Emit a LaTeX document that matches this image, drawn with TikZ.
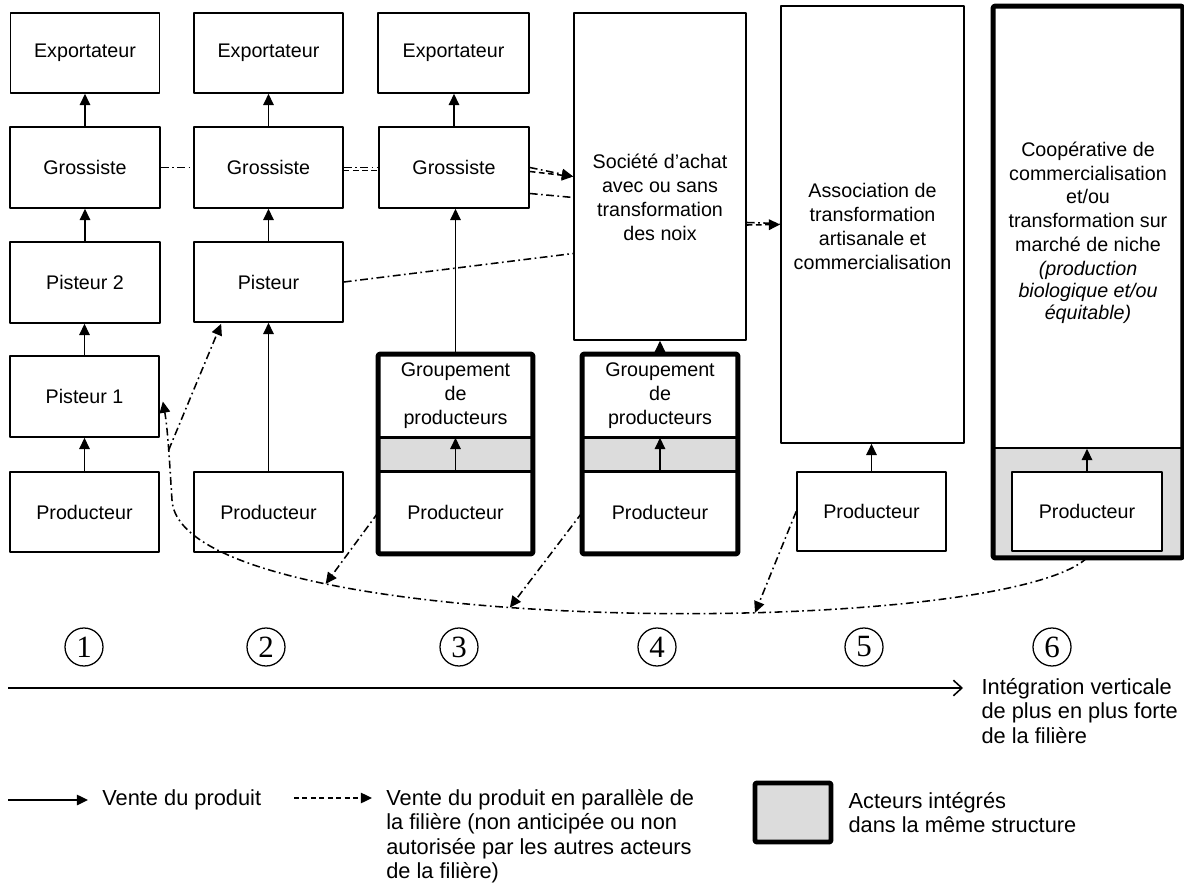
\documentclass[tikz,border=0pt]{standalone}
\usepackage{fontspec}
\setmainfont{Liberation Sans}
\newfontfamily\chiffres{Liberation Serif}
\usetikzlibrary{positioning, arrows.meta, calc}
\definecolor{gris}{RGB}{220,220,220}

\begin{document}
\begin{tikzpicture}[x=0.025cm, y=-0.025cm, line join=round,
    font=\fontsize{14}{17}\selectfont,
    acteur/.style={draw, line width=1.2pt, fill=white, align=center, inner sep=1pt},
    taille/.style 2 args={minimum width=#1*0.025cm, minimum height=#2*0.025cm},
    integre/.style={draw, line width=3.5pt, rounded corners=1pt},
    fleche/.style={-{Triangle[length=8pt, width=7.5pt]}},
    vente/.style={fleche, line width=1.1pt},
    parallele/.style={line width=1.1pt, dash pattern=on 5.5pt off 2.5pt on 1.2pt off 2.5pt},
    tirets/.style={line width=1.1pt, dash pattern=on 4pt off 2.5pt},
    legende/.style={font=\fontsize{15.5}{17.5}\selectfont, align=left, inner sep=2pt},
    numero/.style={circle, draw, line width=0.9pt, minimum size=0.95cm, inner sep=0pt,
      font=\chiffres\fontsize{22}{22}\selectfont}]
  \useasboundingbox (0,0) rectangle (1184,886);

  % colonne 1
  \node[acteur, taille={149}{80}] (exp1) at (85,53) {Exportateur};
  \node[acteur, taille={150}{81}] (gro1) at (85,167.5) {Grossiste};
  \node[acteur, taille={150}{81}] (pis2) at (85,282.5) {Pisteur 2};
  \node[acteur, taille={149}{81}] (pis1) at (84.5,396.5) {Pisteur 1};
  \node[acteur, taille={149}{80}] (prod1) at (84.5,512) {Producteur};

  % colonne 2
  \node[acteur, taille={149}{80}] (exp2) at (268.5,53) {Exportateur};
  \node[acteur, taille={149}{81}] (gro2) at (268.5,167.5) {Grossiste};
  \node[acteur, taille={149}{80}] (pis) at (268.5,282) {Pisteur};
  \node[acteur, taille={149}{80}] (prod2) at (268.5,512) {Producteur};

  % colonne 3
  \node[acteur, taille={151}{80}] (exp3) at (453.5,53) {Exportateur};
  \node[acteur, taille={150}{81}] (gro3) at (454,167.5) {Grossiste};
  \node[acteur, taille={153}{82}] (groupe3) at (455.5,396) {Groupement\\de\\producteurs};
  \node[acteur, taille={153}{81}] (prod3) at (455.5,512.5) {Producteur};
  \filldraw[gris, draw=black, line width=1.2pt] (groupe3.south west) rectangle (prod3.north east);
  \draw[integre] (groupe3.north west) rectangle (prod3.south east);

  % colonne 4
  \node[acteur, taille={172}{327}] (soc) at (660,176.5) {};
  \node[align=center] (soctxt) at (660,197) {Société d’achat\\avec ou sans\\transformation\\des noix};
  \node[acteur, taille={154}{82}] (groupe4) at (660,396) {Groupement\\de\\producteurs};
  \node[acteur, taille={154}{81}] (prod4) at (660,512.5) {Producteur};
  \filldraw[gris, draw=black, line width=1.2pt] (groupe4.south west) rectangle (prod4.north east);
  \draw[integre] (groupe4.north west) rectangle (prod4.south east);

  % colonne 5
  \node[acteur, taille={183}{437}] (asso) at (872.5,224.5) {};
  \node[align=center] (assotxt) at (872.5,226.5) {Association de\\transformation\\artisanale et\\commercialisation};
  \node[acteur, taille={149}{79}] (prod5) at (871.5,511.5) {Producteur};

  % colonne 6
  \node[acteur, taille={188}{441}] (coop) at (1088,227.5) {};
  \node[align=center] (cooptxt) at (1088,232.5) {Coopérative de\\commercialisation\\et/ou\\transformation sur\\marché de niche\\\textit{(production}\\[-1.5pt]\textit{biologique et/ou}\\[-1.5pt]\textit{équitable)}};
  \fill[gris] (coop.south west) rectangle ($(coop.south east)+(0,109)$);
  \node[acteur, taille={150}{79}] (prod6) at (1087,511.5) {Producteur};
  \draw[integre] (coop.north west) rectangle ($(coop.south east)+(0,109)$);

  % vente du produit
  \foreach \a/\b in {gro1/exp1, pis2/gro1, pis1/pis2, prod1/pis1, gro2/exp2, pis/gro2,
      prod2/pis, gro3/exp3, groupe3/gro3, prod3/groupe3, groupe4/soc, prod4/groupe4,
      prod5/asso, prod6/coop}
    \draw[vente] (\a.north) -- (\a.north |- \b.south);

  % vente en parallele
  \draw[parallele] (gro1) -- (gro2);
  \draw[parallele] (gro2) -- (gro3);
  \draw[tirets] ($(gro2.east)+(0,3)$) -- ($(gro3.west)+(0,3)$);
  \draw[parallele, fleche] (gro3.east) -- (soc.west);
  \draw[tirets, fleche] ($(gro3.east)+(0,4)$) -- (soc.west);
  \draw[parallele] ($(gro3.east)+(0,26)$) -- ($(soc.west)+(0,21)$);
  \draw[parallele] (pis.east) -- ($(soc.west)+(0,77)$);
  \draw[parallele] ($(soc.east)+(0,46)$) -- ($(asso.west)+(0,-1)$);
  \draw[tirets, fleche] ($(soc.east)+(0,48.5)$) -- (asso.west);

  \draw[parallele, fleche] ($(prod6.south)+(0,6)$) .. controls (1000,640) and (180,640) .. (172,500)
      coordinate[pos=0.38] (c5) coordinate[pos=0.57] (c4) coordinate[pos=0.73] (c3)
    .. controls (170,470) and (168,430) .. ($(pis1.east)+(3,5)$) coordinate[pos=0.5] (jonc);
  \draw[parallele, fleche] (jonc) -- ($(pis.south west)+(28,1)$);
  \draw[parallele, fleche] (prod3.west) -- (c3);
  \draw[parallele, fleche] (prod4.west) -- (c4);
  \draw[parallele, fleche] (prod5.west) -- (c5);

  % niveaux d'integration
  \foreach \n/\x in {1/84, 2/266, 3/459, 4/657, 5/864, 6/1052}
    \node[numero] (num\n) at (\x,647) {\n};
  \node[legende, anchor=north west, inner xsep=13pt] (integ) at (963,675)
    {Intégration verticale\\de plus en plus forte\\de la filière};
  \coordinate (axe) at (8,688);
  \draw[line width=1.1pt, -{Straight Barb[length=6pt, width=11pt]}] (axe) -- (axe -| integ.west);

  % legende
  \coordinate (leg1) at (8,800);
  \node[legende, anchor=west, inner xsep=10pt] (vente) at (88,800) {Vente du produit};
  \draw[vente] (leg1) -- (vente.west);
  \coordinate (leg2) at (294,798);
  \node[legende, anchor=north west, inner xsep=10pt] (parall) at (372,786)
    {Vente du produit en parallèle de\\la filière (non anticipée ou non\\autorisée par les autres acteurs\\de la filière)};
  \draw[fleche, line width=1pt, dash pattern=on 3.5pt off 2.5pt] (leg2) -- (leg2 -| parall.west);
  \node[integre, fill=gris, taille={76}{59}] (legbox) at (793,812.5) {};
  \node[legende, right=0.3cm of legbox] (legtxt) {Acteurs intégrés\\dans la même structure};
\end{tikzpicture}
\end{document}
